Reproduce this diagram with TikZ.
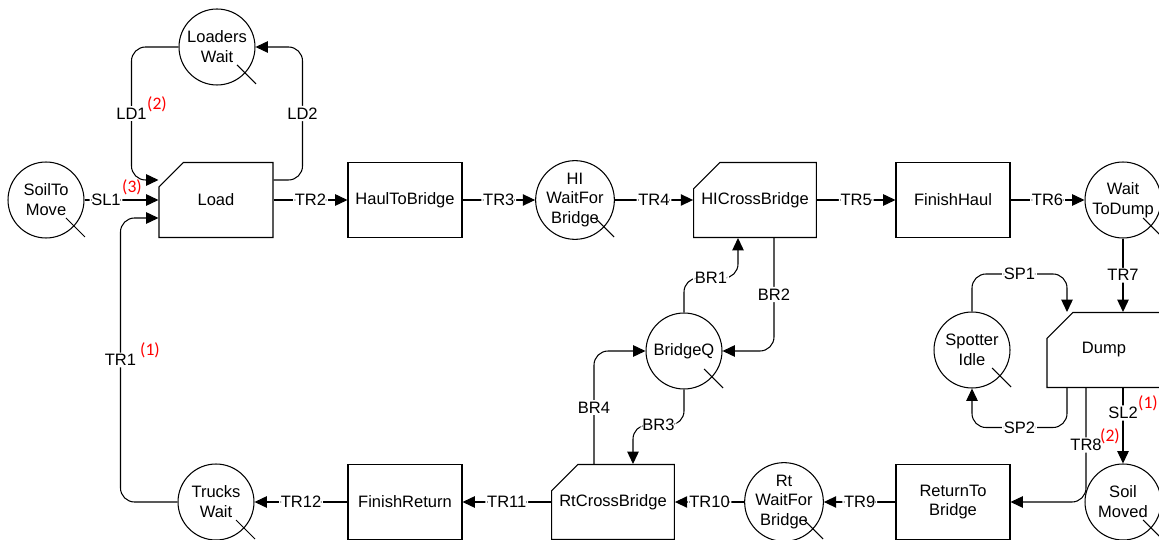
\documentclass[tikz,border=0pt]{standalone}
\usepackage{fontspec}
\setmainfont{Liberation Sans}
\newfontfamily\notefont{Carlito}
\usetikzlibrary{arrows.meta,calc,shapes.misc}

\begin{document}
\begin{tikzpicture}[x=0.02cm, y=-0.02cm, line width=0.6pt,
  font=\fontsize{9.4}{11.3}\selectfont,
  queue/.style={draw, circle, minimum size=1.52cm, inner sep=0pt, align=center},
  act/.style={draw, rectangle, minimum width=2.28cm, minimum height=1.5cm, inner sep=0pt, align=center},
  cact/.style={act, chamfered rectangle, chamfered rectangle corners=north west,
    chamfered rectangle xsep=0.37cm, chamfered rectangle ysep=0.37cm},
  flow/.style={-{Triangle[length=7pt,width=6.5pt]}, rounded corners=8pt},
  lbl/.style={fill=white, inner sep=1pt},
  note/.style={text=red, font=\notefont\fontsize{10}{12}\selectfont, inner sep=0pt}]
  \useasboundingbox (0,0) rectangle (1159,540);
  \clip (0,0) rectangle (1159,540);

  % haul side
  \node[queue] (STM) at (46,200) {SoilTo\\Move};
  \node[queue] (LW) at (217,47) {Loaders\\Wait};
  \node[cact] (Load) at (216,200) {Load};
  \node[act] (HTB) at (405,200) {HaulToBridge};
  \node[queue] (HWB) at (575,200) {HI\\WaitFor\\Bridge};
  \node[cact] (HCB) at (755,200) {HICrossBridge};
  \node[act] (FH) at (953,200) {FinishHaul};
  \node[queue] (WTD) at (1123,200) {Wait\\ToDump};

  % dump and bridge
  \node[queue] (SI) at (972,350) {Spotter\\Idle};
  \node[cact] (Dump) at (1104,350) {Dump};
  \node[queue] (SM) at (1123,502) {Soil\\Moved};
  \node[queue] (BQ) at (684,351) {BridgeQ};

  % return side
  \node[act] (RTB) at (953,502) {ReturnTo\\Bridge};
  \node[queue] (RWB) at (784,502) {Rt\\WaitFor\\Bridge};
  \node[cact] (RCB) at (613,502) {RtCrossBridge};
  \node[act] (FR) at (405,502) {FinishReturn};
  \node[queue] (TW) at (216,502) {Trucks\\Wait};

  % slash on every queue
  \foreach \q in {STM,LW,HWB,WTD,SI,SM,BQ,RWB,TW}
    \draw ($(\q)+(20,18)$) -- ($(\q)+(39,37)$);

  % loading
  \draw[flow] (STM.east) -- node[lbl,pos=0.29]{SL1} (Load.west);
  \draw[flow] (LW.west) -| node[lbl,pos=0.75]{LD1} ($(Load.west)+(-27,-20)$) -- ($(Load.west)+(0,-20)$);
  \draw[flow] ($(Load.east)+(0,-20)$) -| node[lbl,pos=0.75]{LD2} ($(LW.east)+(47,0)$) -- (LW.east);
  \draw[flow] (TW.west) -| node[lbl,pos=0.75]{TR1} ($(Load.west)+(-38,18)$) -- ($(Load.west)+(0,18)$);

  % haul
  \draw[flow] (Load.east) -- node[lbl]{TR2} (HTB.west);
  \draw[flow] (HTB.east) -- node[lbl]{TR3} (HWB.west);
  \draw[flow] (HWB.east) -- node[lbl]{TR4} (HCB.west);
  \draw[flow] (HCB.east) -- node[lbl]{TR5} (FH.west);
  \draw[flow] (FH.east) -- node[lbl]{TR6} (WTD.west);
  \draw[flow] (WTD.south) -- node[lbl]{TR7} (WTD.south |- Dump.north);

  % spotter and soil
  \draw[flow] (SI.north) |- node[lbl,pos=0.75]{SP1} ($(Dump.north)+(-37,-38)$) -- ($(Dump.north)+(-37,0)$);
  \draw[flow] ($(Dump.south)+(-37,0)$) |- node[lbl,pos=0.75]{SP2} ($(SI.south)+(0,39)$) -- (SI.south);
  \draw[flow] (SM.north |- Dump.south) -- node[lbl,pos=0.33]{SL2} (SM.north);

  % return
  \draw[flow] ($(Dump.south)+(-18,0)$) |- node[lbl,pos=0.25]{TR8} (RTB.east);
  \draw[flow] (RTB.west) -- node[lbl]{TR9} (RWB.east);
  \draw[flow] (RWB.west) -- node[lbl]{TR10} (RCB.east);
  \draw[flow] (RCB.west) -- node[lbl]{TR11} (FR.east);
  \draw[flow] (FR.west) -- node[lbl]{TR12} (TW.east);

  % bridge
  \draw[flow] (BQ.north) |- node[lbl,pos=0.75]{BR1} ($(HCB.south)+(-17,40)$) -- ($(HCB.south)+(-17,0)$);
  \draw[flow] ($(HCB.south)+(19,0)$) |- node[lbl,pos=0.25]{BR2} (BQ.east);
  \draw[flow] (BQ.south) |- node[lbl,pos=0.75]{BR3} ($(RCB.north)+(20,-39)$) -- ($(RCB.north)+(20,0)$);
  \draw[flow] ($(RCB.north)+(-19,0)$) |- node[lbl,pos=0.25]{BR4} (BQ.west);

  % counts
  \node[note] (n3) at (132,187) {(3)};
  \node[note] (n2) at (157,104) {(2)};
  \node[note] (n1) at (150,350) {(1)};
  \node[note] (s1) at (1148,403) {(1)};
  \node[note] (t2) at (1110,436) {(2)};
\end{tikzpicture}
\end{document}
